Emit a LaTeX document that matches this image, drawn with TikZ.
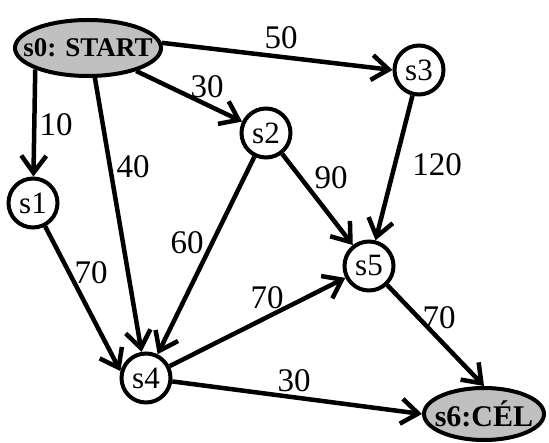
\documentclass[tikz,border=0pt]{standalone}
\usepackage{fontspec}
\setmainfont{Liberation Serif}
\usepackage{xcolor}
\usepackage{tikz}
\usetikzlibrary{shapes.geometric, arrows.meta}

\definecolor{vegszurke}{RGB}{192,192,192}

\begin{document}
\begin{tikzpicture}[x=1pt, y=-1pt,
  >={Straight Barb[length=17pt, width=25pt]},
  csucs/.style={circle, draw, line width=4pt, minimum size=49pt, inner sep=0pt,
    font=\fontsize{31}{31}\selectfont},
  vegpont/.style={ellipse, draw, line width=4pt, fill=vegszurke, inner ysep=0pt},
  el/.style={->, line width=4.5pt},
  suly/.style={inner sep=0pt, font=\fontsize{33}{33}\selectfont}]

\useasboundingbox (0,0) rectangle (549,443);

% Csúcsok
\node[vegpont, inner xsep=-14pt, minimum width=146pt, minimum height=56pt,
  font=\bfseries\fontsize{27}{27}\selectfont] (s0) at (88,48) {s0: START};
\node[csucs] (s1) at (33,203) {s1};
\node[csucs] (s2) at (266,133) {s2};
\node[csucs] (s3) at (419,70) {s3};
\node[csucs] (s4) at (146,378) {s4};
\node[csucs] (s5) at (369,266) {s5};
\node[vegpont, inner xsep=-13pt, minimum width=120pt, minimum height=52pt,
  font=\bfseries\fontsize{30}{30}\selectfont] (s6) at (484,414) {s6:CÉL};

% Élek
\draw[el] (s0.202) -- (s1);
\draw[el] (s0.283) -- (s4);
\draw[el] (s0) -- (s2);
\draw[el] (s0.4) -- (s3.west);
\draw[el] (s1) -- (s4.165);
\draw[el] (s2) -- (s4);
\draw[el] (s2) -- (s5);
\draw[el] (s3) -- (s5);
\draw[el] (s4) -- (s5);
\draw[el] (s4) -- (s6.west);
\draw[el] (s5) -- (s6.north);

% Súlyok
\node[suly] (w01) at (56,125) {10};
\node[suly] (w04) at (133,167) {40};
\node[suly] (w02) at (207,87) {30};
\node[suly] (w03) at (281,38) {50};
\node[suly] (w14) at (91,273) {70};
\node[suly] (w24) at (187,243) {60};
\node[suly] (w25) at (331,178) {90};
\node[suly] (w35) at (437,165) {120};
\node[suly] (w45) at (267,298) {70};
\node[suly] (w46) at (294,381) {30};
\node[suly] (w56) at (439,318) {70};

\end{tikzpicture}
\end{document}
